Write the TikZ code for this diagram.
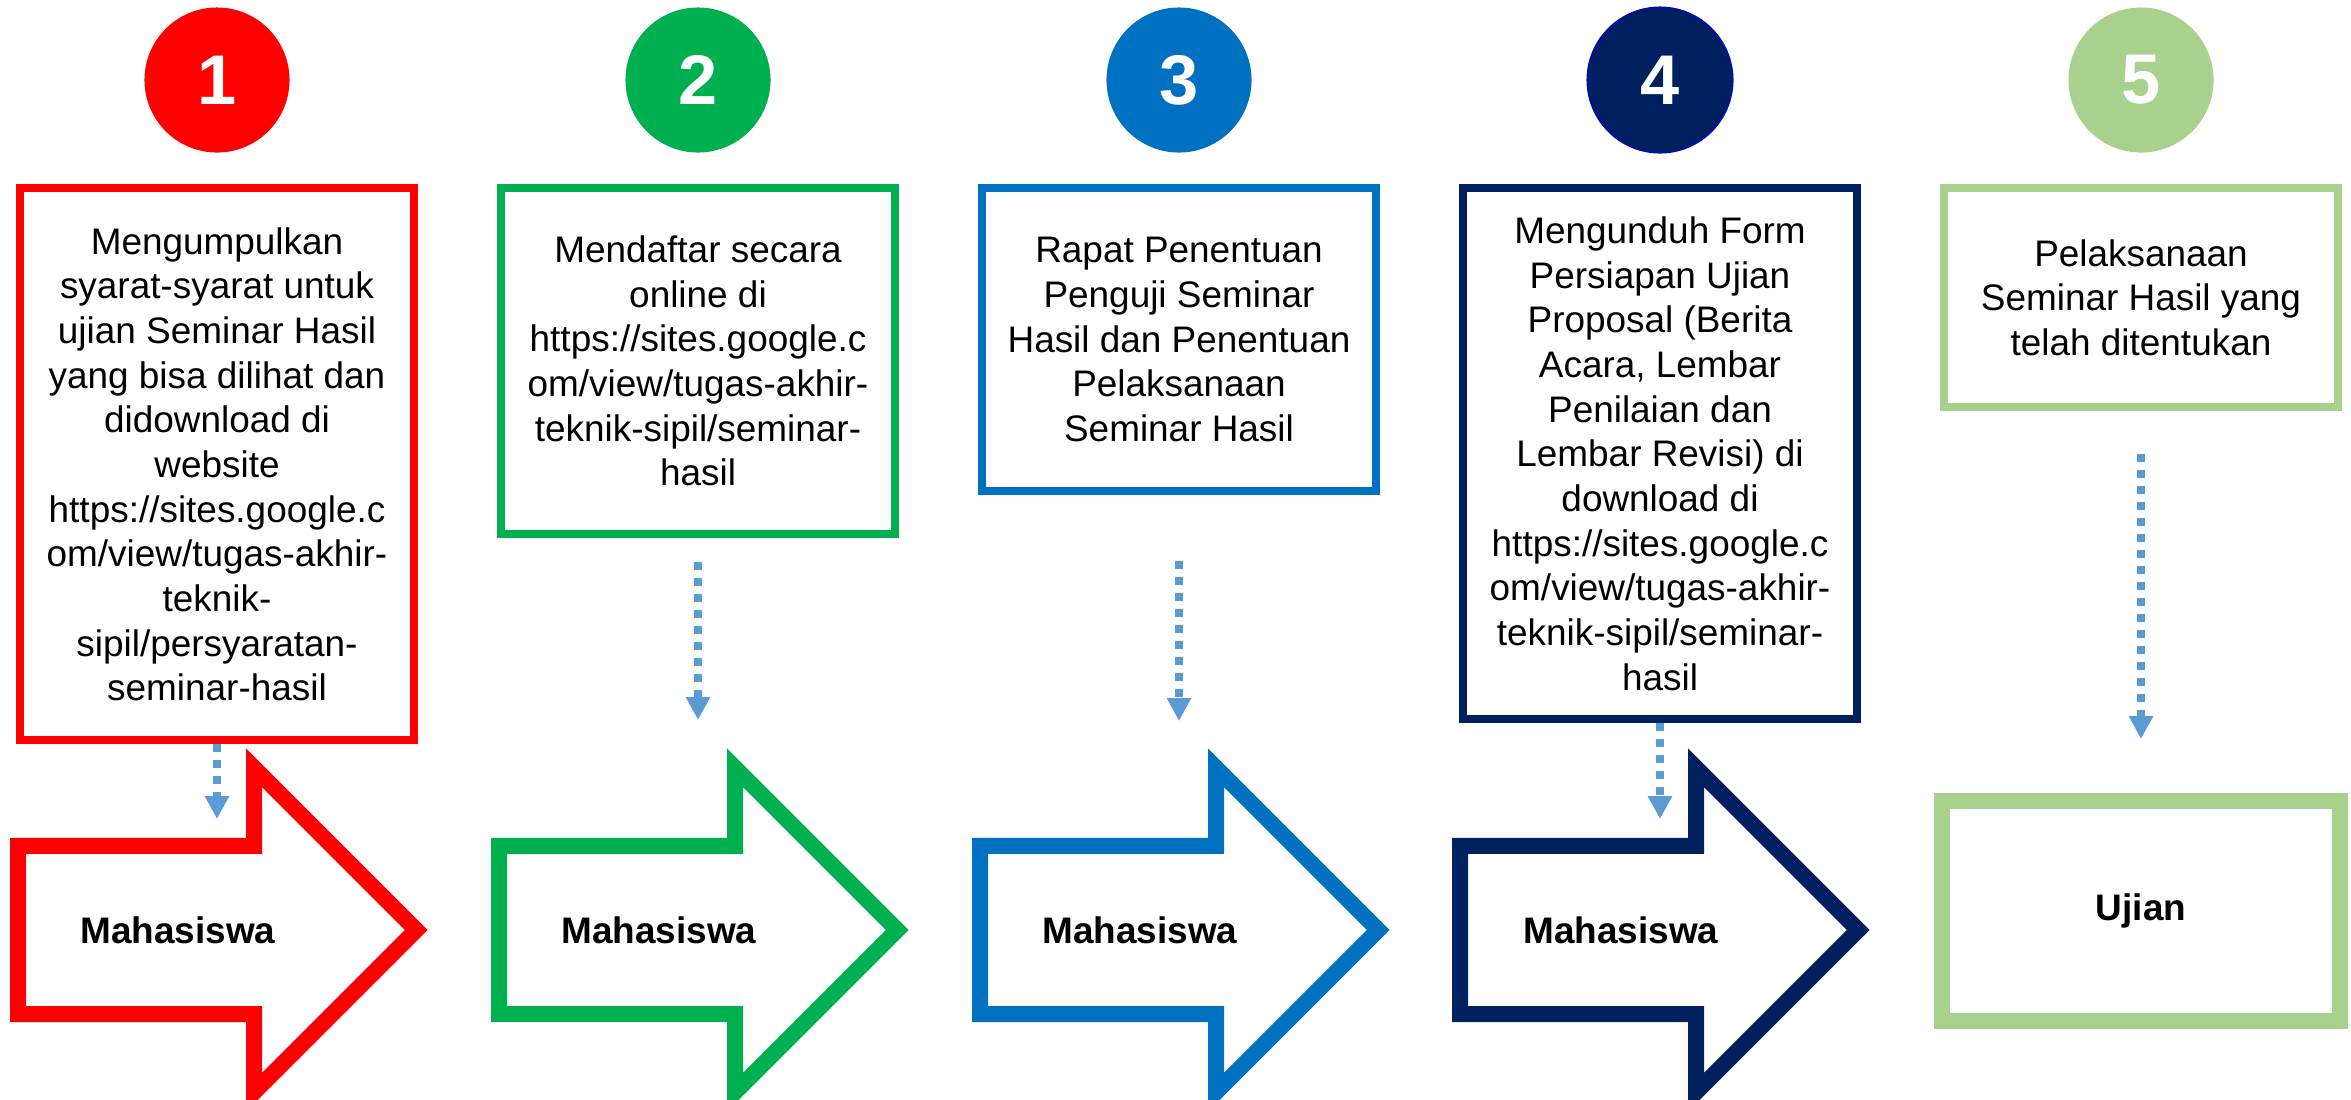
\documentclass[tikz,border=0pt]{standalone}
\usepackage{fontspec}
\setmainfont{Liberation Sans}
\usepackage{tikz}
\usetikzlibrary{shapes,arrows.meta,positioning}

\definecolor{stepred}{HTML}{FF0000}
\definecolor{stepgreen}{HTML}{00B050}
\definecolor{stepblue}{HTML}{0070C0}
\definecolor{stepnavy}{HTML}{002060}
\definecolor{steplight}{HTML}{A9D18E}
\definecolor{flowblue}{HTML}{5B9BD5}

\begin{document}
\begin{tikzpicture}[
    x=0.01cm, y=-0.01cm,
    number/.style={circle, fill=#1, minimum size=1.45cm, inner sep=0pt, text=white, font=\fontsize{20}{24}\selectfont\bfseries},
    task/.style={rectangle, draw=#1, line width=0.08cm, minimum width=3.94cm, anchor=north, align=center, font=\fontsize{10.5}{12.7}\selectfont},
    actor/.style={single arrow, draw=#1, line width=0.16cm, single arrow tip angle=90, single arrow head extend=0.78cm, minimum width=3.08cm, minimum height=3.98cm, inner xsep=0pt, inner ysep=0.76cm, anchor=tail},
    actortext/.style={font=\fontsize{10.5}{12.7}\selectfont\bfseries},
    flow/.style={-{Triangle[width=0.23cm, length=0.23cm]}, draw=flowblue, line width=0.08cm, dash pattern=on 0.08cm off 0.08cm},
]
\useasboundingbox (0,0) rectangle (2351,1099);

% Step numbers
\node[number=stepred] (num1) at (217,80) {1};
\node[number=stepgreen] (num2) at (698,80) {2};
\node[number=stepblue] (num3) at (1179,80) {3};
\node[number=stepnavy, draw=blue!40!stepnavy, line width=0.02cm] (num4) at (1660,80) {4};
\node[number=steplight] (num5) at (2141,80) {5};

% Step descriptions
\node[task=stepred, minimum height=5.52cm] (task1) at (217,184) {Mengumpulkan\\syarat-syarat untuk\\ujian Seminar Hasil\\yang bisa dilihat dan\\didownload di\\website\\https://sites.google.c\\om/view/tugas-akhir-\\teknik-\\sipil/persyaratan-\\seminar-hasil};
\node[task=stepgreen, minimum height=3.46cm] (task2) at (698,184) {Mendaftar secara\\online di\\https://sites.google.c\\om/view/tugas-akhir-\\teknik-sipil/seminar-\\hasil};
\node[task=stepblue, minimum height=3.03cm] (task3) at (1179,184) {Rapat Penentuan\\Penguji Seminar\\Hasil dan Penentuan\\Pelaksanaan\\Seminar Hasil};
\node[task=stepnavy, minimum height=5.31cm] (task4) at (1660,184) {Mengunduh Form\\Persiapan Ujian\\Proposal (Berita\\Acara, Lembar\\Penilaian dan\\Lembar Revisi) di\\download di\\https://sites.google.c\\om/view/tugas-akhir-\\teknik-sipil/seminar-\\hasil};
\node[task=steplight, minimum height=2.19cm] (task5) at (2141,184) {Pelaksanaan\\Seminar Hasil yang\\telah ditentukan};

% Actors
\node[actor=stepred] (actor1) at (10,930) {};
\node[actor=stepgreen] (actor2) at (491,930) {};
\node[actor=stepblue] (actor3) at (972,930) {};
\node[actor=stepnavy] (actor4) at (1452,930) {};
\node[actortext] (who1) at (178,930) {Mahasiswa};
\node[actortext] (who2) at (659,930) {Mahasiswa};
\node[actortext] (who3) at (1140,930) {Mahasiswa};
\node[actortext] (who4) at (1621,930) {Mahasiswa};

% Final exam
\node[rectangle, draw=steplight, line width=0.16cm, minimum width=3.97cm, minimum height=2.2cm, font=\fontsize{10.5}{12.7}\selectfont\bfseries] (exam) at (2141,911) {Ujian};

% Arrow ends
\coordinate (in1) at (217,819);
\coordinate (in2) at (698,720);
\coordinate (in3) at (1179,721);
\coordinate (in4) at (1660,819);
\coordinate (in5) at (2141,739);

% Arrows
\draw[flow] (task1.south) -- (in1);
\draw[flow, shorten <=0.24cm] (task2.south) -- (in2);
\draw[flow, shorten <=0.66cm] (task3.south) -- (in3);
\draw[flow] (task4.south) -- (in4);
\draw[flow, shorten <=0.43cm] (task5.south) -- (in5);

\end{tikzpicture}
\end{document}
